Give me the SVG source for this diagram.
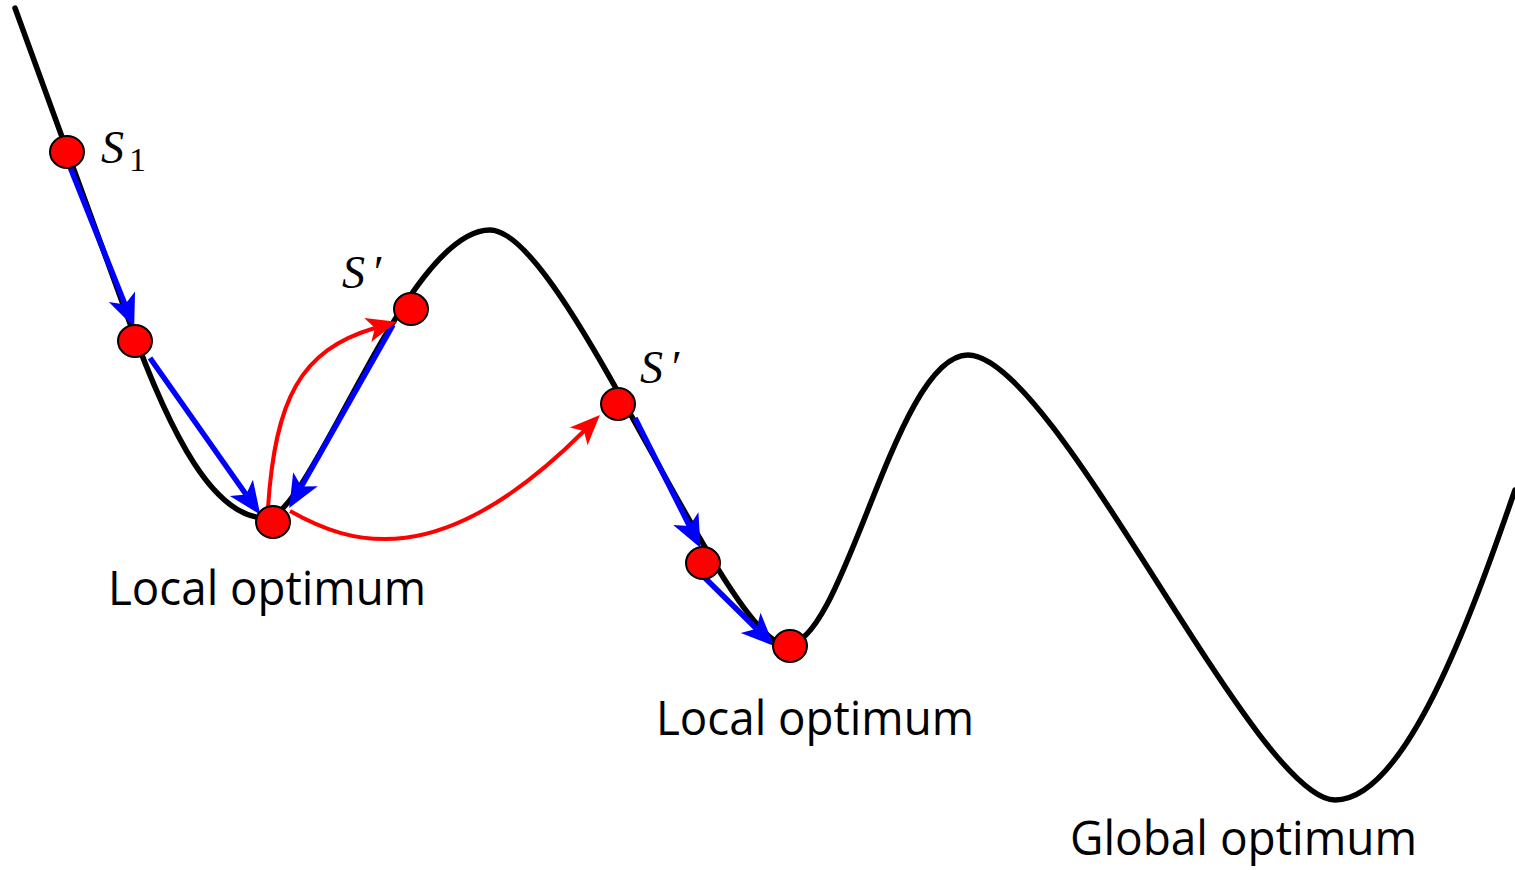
<svg xmlns="http://www.w3.org/2000/svg" width="1515" height="870" viewBox="0 0 1515 870">
<style>
.curve{fill:none;stroke:#000;stroke-width:5.5;stroke-linejoin:round;stroke-linecap:round}
.blue{fill:none;stroke:#0000ff;stroke-width:5.5;marker-end:url(#ab)}
.red{fill:none;stroke:#ff0000;stroke-width:4;marker-end:url(#ar)}
.node{fill:#ff0000;stroke:#000;stroke-width:2}
.lbl{font-family:"Open Sans","Noto Sans",sans-serif;font-size:48px;fill:#000}
.s{font-family:"Liberation Serif","Times New Roman",serif;font-style:italic;font-size:46px;fill:#000}
.sub{font-family:"Liberation Serif","Times New Roman",serif;font-size:34px;fill:#000}
</style>
<defs>
<marker id="ab" markerUnits="userSpaceOnUse" markerWidth="40" markerHeight="40" viewBox="-2 -15 34 30" refX="7" refY="0" orient="auto">
<path d="M0,-12 L28,0 L0,12 L7,0 Z" fill="#0000ff"/>
</marker>
<marker id="ar" markerUnits="userSpaceOnUse" markerWidth="40" markerHeight="40" viewBox="-2 -14 32 28" refX="6" refY="0" orient="auto">
<path d="M0,-10 L24,0 L0,10 L6,0 Z" fill="#ff0000"/>
</marker>
</defs>
<g id="landscape">
<path class="curve" d="M15,8 L128,318 C 172,440 215,518 266,518 C 312,518 405,230 490,230 C 565,230 725,645 787,645 C 845,645 895,355 968,355 C 1055,355 1255,800 1335,800 C 1405,800 1470,620 1515,490"/>
</g>
<g id="connectors">
<line class="blue" x1="70" y1="167" x2="125" y2="304.4"/>
<line class="blue" x1="150" y1="358" x2="246.1" y2="494.5"/>
<line class="blue" x1="393" y1="325" x2="301.4" y2="486.5"/>
<line class="blue" x1="635" y1="418" x2="689.5" y2="526"/>
<line class="blue" x1="705" y1="578" x2="756.5" y2="628.7"/>
<path class="red" d="M268,508 C 275,400 300,350 375,328"/>
<path class="red" d="M290,511 C 350,545 440,575 584,431"/>
</g>
<g id="n1"><ellipse class="node" cx="67" cy="152" rx="17" ry="16"/></g>
<g id="n2"><ellipse class="node" cx="135" cy="341" rx="17" ry="16"/></g>
<g id="n3"><ellipse class="node" cx="273" cy="522" rx="17" ry="16"/></g>
<g id="n4"><ellipse class="node" cx="411" cy="309" rx="17" ry="16"/></g>
<g id="n5"><ellipse class="node" cx="618" cy="404" rx="17" ry="16"/></g>
<g id="n6"><ellipse class="node" cx="703" cy="563" rx="17" ry="16"/></g>
<g id="n7"><ellipse class="node" cx="790" cy="646" rx="17" ry="16"/></g>
<g id="labels">
<text class="s" x="101" y="163">S</text><text class="sub" x="129" y="171">1</text>
<text class="s" x="342" y="288">S<tspan dx="6">′</tspan></text>
<text class="s" x="640" y="383">S<tspan dx="6">′</tspan></text>
<text class="lbl" x="108" y="605" textLength="318" lengthAdjust="spacingAndGlyphs">Local optimum</text>
<text class="lbl" x="656" y="735" textLength="318" lengthAdjust="spacingAndGlyphs">Local optimum</text>
<text class="lbl" x="1070" y="855" textLength="347" lengthAdjust="spacingAndGlyphs">Global optimum</text>
</g>
</svg>
